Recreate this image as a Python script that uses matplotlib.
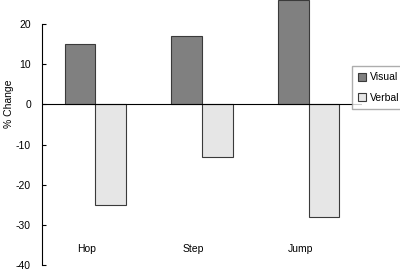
import numpy as np
import matplotlib.pyplot as plt

plt.rcParams['font.family'] = ['Liberation Sans', 'DejaVu Sans']
plt.rcParams['axes.unicode_minus'] = False

categories = ['Hop', 'Step', 'Jump']
visual = [15, 17, 26]
verbal = [-25, -13, -28]

fig = plt.figure(figsize=(4, 2.71), dpi=100)
ax = fig.add_axes([0.105, 0.022, 0.8, 0.889])

x = np.arange(len(categories))
w = 0.286
ax.bar(x - w/2, visual, w, color='#808080', edgecolor='#3a3a3a', linewidth=0.8,
       label='Visual', clip_on=False, zorder=2)
ax.bar(x + w/2, verbal, w, color='#e6e6e6', edgecolor='#3a3a3a', linewidth=0.8,
       label='Verbal', clip_on=False, zorder=2)

ax.axhline(0, color='black', linewidth=0.8, zorder=3)
ax.set_xlim(-0.5, 2.5)
ax.set_ylim(-40, 20)
ax.set_yticks([20, 10, 0, -10, -20, -30, -40])
ax.set_xticks([])
for s in ['top', 'right', 'bottom']:
    ax.spines[s].set_visible(False)
ax.spines['left'].set_linewidth(0.8)
ax.tick_params(axis='y', direction='in', length=3, labelsize=7.5, pad=8)
fig.text(0.022, 1 - 104/271, '% Change', rotation=90, ha='center', va='center',
         fontsize=7.5)

for xi, name in zip(x, categories):
    ax.text(xi - 0.08, -36, name, ha='center', va='center', fontsize=7.5)

fig.legend(loc='upper left', bbox_to_anchor=(0.866, 0.775), fontsize=7.5,
           frameon=True, fancybox=False, edgecolor='#999999', handlelength=0.8,
           handleheight=0.8, labelspacing=1.0, handletextpad=0.4,
           borderpad=0.6)

fig.savefig('out.png', dpi=100)
